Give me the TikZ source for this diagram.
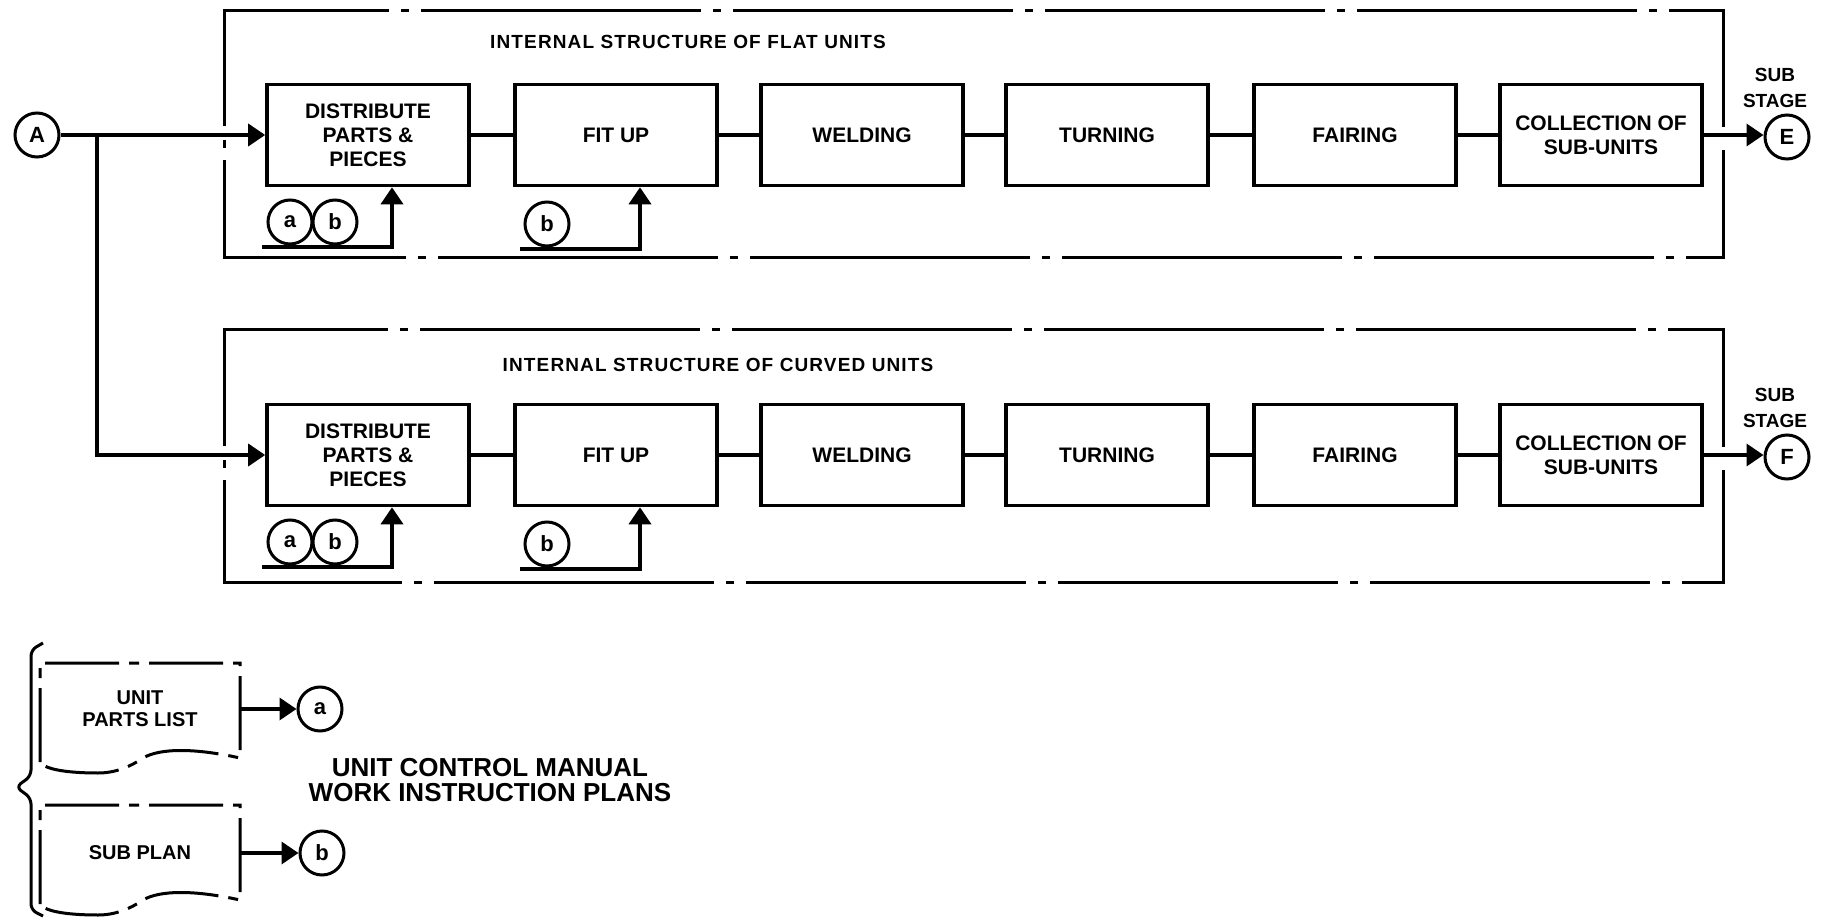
\documentclass[tikz,border=0pt]{standalone}
\usepackage{fontspec}
\setmainfont{Liberation Sans}
\usetikzlibrary{arrows.meta,positioning}

\begin{document}
\begin{tikzpicture}[
  x=0.5pt, y=-0.5pt,
  font=\bfseries, >={Triangle[length=8.5pt,width=11pt]},
  stage/.style={draw,line width=1.8pt,minimum width=101pt,minimum height=50.5pt,
                align=center,inner sep=2pt,font=\bfseries\fontsize{10.5}{12}\selectfont},
  tag/.style={circle,draw,line width=1.5pt,minimum size=22pt,inner sep=0pt,
              font=\bfseries\fontsize{11}{12}\selectfont},
  docbox/.style={minimum width=100pt,minimum height=46pt,inner sep=0pt,align=center,
                 font=\bfseries\fontsize{10}{11}\selectfont},
  ttl/.style={font=\bfseries\fontsize{9.5}{10}\selectfont\addfontfeature{LetterSpace=6}},
  lbl/.style={align=center,inner sep=0pt,font=\bfseries\fontsize{9.5}{13}\selectfont},
  lnk/.style={line width=1.8pt},
  flow/.style={->,line width=1.8pt},
  frm/.style={line width=1.5pt,dash pattern=on 140pt off 6pt on 4pt off 6pt},
  docline/.style={line width=1.5pt,dash pattern=on 37pt off 5pt on 5pt off 5pt},
]
\useasboundingbox (0,0) rectangle (1825,919);

% flat units
\draw[frm] (224,126) -- (224,11) -- (1723,11) -- (1723,127);
\draw[frm,dash phase=146pt] (224,140) -- (224,258) -- (1723,258) -- (1723,150);
\node[ttl] (t1) at (688,42) {INTERNAL STRUCTURE OF FLAT UNITS};
\node[stage] (d1)  at (368,135)  {DISTRIBUTE\\PARTS \&\\PIECES};
\node[stage] (f1)  at (616,135)  {FIT UP};
\node[stage] (w1)  at (862,135)  {WELDING};
\node[stage] (tu1) at (1107,135) {TURNING};
\node[stage] (fa1) at (1355,135) {FAIRING};
\node[stage] (c1)  at (1601,135) {COLLECTION OF\\SUB-UNITS};
\node[tag] (E) at (1787,137) {E};
\node[lbl] (ss1) at (1775,88) {SUB\\STAGE};
\node[tag] (a1) at (290,222) {a};
\node[tag] (b1) at (335,222) {b};
\node[tag] (b2) at (547,224) {b};
\coordinate (u1) at (262,247);
\coordinate (u2) at (520,249);

% curved units
\draw[frm] (224,446) -- (224,330) -- (1723,330) -- (1723,447);
\draw[frm,dash phase=146pt] (224,460) -- (224,582) -- (1723,582) -- (1723,470);
\node[ttl] (t2) at (718,365) {INTERNAL STRUCTURE OF CURVED UNITS};
\node[stage] (d2)  at (368,455)  {DISTRIBUTE\\PARTS \&\\PIECES};
\node[stage] (f2)  at (616,455)  {FIT UP};
\node[stage] (w2)  at (862,455)  {WELDING};
\node[stage] (tu2) at (1107,455) {TURNING};
\node[stage] (fa2) at (1355,455) {FAIRING};
\node[stage] (c2)  at (1601,455) {COLLECTION OF\\SUB-UNITS};
\node[tag] (F) at (1787,457) {F};
\node[lbl] (ss2) at (1775,408) {SUB\\STAGE};
\node[tag] (a3) at (290,542) {a};
\node[tag] (b3) at (335,542) {b};
\node[tag] (b4) at (547,544) {b};
\coordinate (u3) at (262,567);
\coordinate (u4) at (520,569);

% entry
\node[tag] (A) at (37,135) {A};
\coordinate (br) at (97,135);
\draw[flow] (A) -- (d1);
\draw[flow] (br) |- (d2);

\draw[lnk] (d1) -- (f1);
\draw[lnk] (f1) -- (w1);
\draw[lnk] (w1) -- (tu1);
\draw[lnk] (tu1) -- (fa1);
\draw[lnk] (fa1) -- (c1);
\draw[flow] (c1.east) -- (c1.east -| E.west);
\draw[flow] (u1) -| ([xshift=12pt]d1.south);
\draw[flow] (u2) -| ([xshift=12pt]f1.south);

\draw[lnk] (d2) -- (f2);
\draw[lnk] (f2) -- (w2);
\draw[lnk] (w2) -- (tu2);
\draw[lnk] (tu2) -- (fa2);
\draw[lnk] (fa2) -- (c2);
\draw[flow] (c2.east) -- (c2.east -| F.west);
\draw[flow] (u3) -| ([xshift=12pt]d2.south);
\draw[flow] (u4) -| ([xshift=12pt]f2.south);

% work instruction plans
\draw[line width=1.5pt,rounded corners=3pt]
  (43,643) -- (31,650) -- (31,776) -- (16,787) -- (31,798) -- (31,910) -- (43,916);
\draw[docline] (40,762) -- (40,663) -- (240,663) -- (240,758)
  .. controls (195,748) and (160,748) .. (143,758)
  .. controls (130,767) and (115,773) .. (98,773)
  .. controls (70,773) and (45,770) .. (40,762);
\draw[docline] (40,904) -- (40,805) -- (240,805) -- (240,900)
  .. controls (195,890) and (160,890) .. (143,900)
  .. controls (130,909) and (115,915) .. (98,915)
  .. controls (70,915) and (45,912) .. (40,904);
\node[docbox] (upl) at (140,709) {UNIT\\PARTS LIST};
\node[docbox] (spl) at (140,853) {SUB PLAN};
\node[tag] (la) at (320,709) {a};
\node[tag] (lb) at (322,853) {b};
\draw[flow] (upl.east) -- (la);
\draw[flow] (spl.east) -- (lb);
\node[align=center,font=\bfseries\fontsize{13}{12.5}\selectfont] (ucm) at (490,780)
  {UNIT CONTROL MANUAL\\WORK INSTRUCTION PLANS};
\end{tikzpicture}
\end{document}
